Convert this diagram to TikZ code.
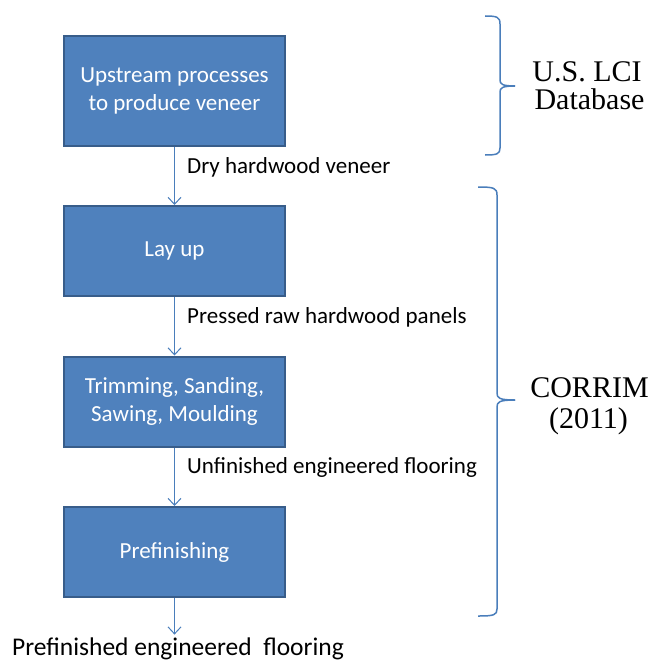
\documentclass[tikz,border=0pt]{standalone}
\usepackage{fontspec}
\setmainfont{Carlito}
\newfontfamily\serifrm{Liberation Serif}
\usetikzlibrary{arrows.meta}
\definecolor{boxfill}{HTML}{4F81BD}
\definecolor{boxline}{HTML}{385D8A}
\definecolor{flow}{HTML}{4A7EBB}
\begin{document}
\begin{tikzpicture}[x=1bp,y=-1bp,
  procbox/.style={draw=boxline, line width=2bp, fill=boxfill, text=white, minimum width=221bp, align=center, font=\fontsize{23bp}{28bp}\selectfont, inner sep=0pt},
  flowlabel/.style={anchor=base west, font=\fontsize{23bp}{28bp}\selectfont, inner sep=0pt},
  scopelabel/.style={anchor=base, font=\serifrm\fontsize{30bp}{34bp}\selectfont, inner sep=0pt},
  flowarrow/.style={draw=flow, line width=1bp, -{Straight Barb[length=7bp,width=13bp]}},
  bracket/.style={draw=flow, line width=1.5bp}]
\useasboundingbox[fill=white] (0,0) rectangle (652,661);

\node[procbox, minimum height=110bp] (up) at (174.5,91) {Upstream processes\\to produce veneer};
\node[procbox, minimum height=90bp] (lay) at (174.5,251) {Lay up};
\node[procbox, minimum height=90bp] (trim) at (174.5,401.5) {Trimming, Sanding,\\Sawing, Moulding};
\node[procbox, minimum height=90bp] (pre) at (174.5,552) {Prefinishing};

\node[flowlabel] (l1) at (187,173) {Dry hardwood veneer};
\node[flowlabel] (l2) at (187,323) {Pressed raw hardwood panels};
\node[flowlabel] (l3) at (187,473) {Unfinished engineered flooring};
\node[anchor=base, inner sep=0pt, font=\fontsize{25.5bp}{30bp}\selectfont] (final) at (178,655.5) {Prefinished engineered\ \ flooring};

\draw[flowarrow] (up.south) -- (lay.north);
\draw[flowarrow] (lay.south) -- (trim.north);
\draw[flowarrow] (trim.south) -- (pre.north);
\draw[flowarrow, shorten >=3bp] (pre.south) -- (pre.south |- final.north);

\draw[bracket] (485,16) .. controls (497,16) and (500,17) .. (500,24) -- (500,80) .. controls (500,84) and (502,86) .. (515,86);
\draw[bracket] (515,86) .. controls (502,86) and (500,88) .. (500,92) -- (500,148) .. controls (500,154) and (497,155) .. (485,155);

\draw[bracket] (478,187) .. controls (494,187) and (497,188) .. (497,195) -- (497,393) .. controls (497,398) and (499,400) .. (515,400);
\draw[bracket] (515,400) .. controls (499,400) and (497,402) .. (497,407) -- (497,609) .. controls (497,615) and (494,616) .. (478,616);

\node[scopelabel] (lci1) at (587,82) {U.S. LCI};
\node[scopelabel] (lci2) at (589.5,110) {Database};
\node[scopelabel] (cor1) at (589.5,397) {CORRIM};
\node[scopelabel] (cor2) at (588.5,428) {(2011)};
\end{tikzpicture}
\end{document}
